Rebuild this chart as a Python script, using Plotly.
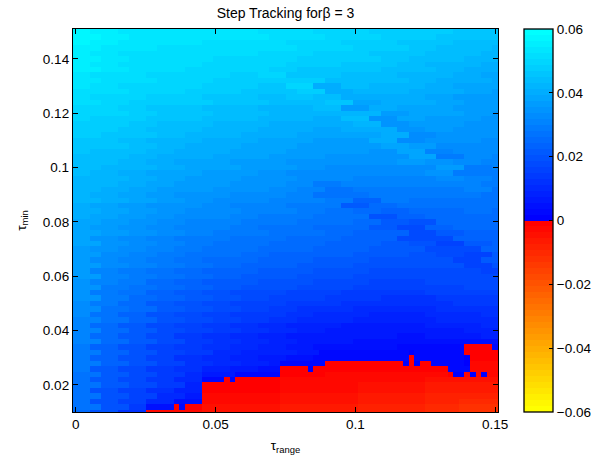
import plotly.graph_objects as go

# Parameter grid: tau_range along x, tau_min along y
tau_range = [round(0.002 * i, 3) for i in range(76)]        # 0 ... 0.15
tau_min = [round(0.01 + 0.002 * j, 3) for j in range(71)]   # 0.01 ... 0.15

# Run-length coded rows of the tracking measure, first row is tau_min = 0.15.
# Each token is <code><count>; digits/lower-case codes are positive levels
# (0 .. v), upper-case codes are negative levels (A = just below zero).
level_rows = [
    "u3 t5 s25 r10 q10 p15 o8",
    "u5 t5 s25 r10 q10 p10 o11",
    "u3 t5 s15 r15 q10 p10 o10 n8",
    "t5 s10 r25 q10 p10 o5 n10 m1",
    "t3 s5 r25 q10 p10 o10 n10 m3",
    "t5 s5 r15 q15 p15 o5 n10 m6",
    "t3 s5 r15 q15 p10 o10 n5 m10 l3",
    "t5 s5 r10 q15 p5 o15 n10 m5 l6",
    "s3 r10 q15 p5 q5 o10 n10 m10 l5 k3",
    "s5 r10 q10 p20 n15 m5 l10 k1",
    "s3 r5 q15 p10 o5 q5 l5 n5 m10 l5 k8",
    "r10 q10 p10 o10 p5 l5 m10 l10 k5 j1",
    "r3 q10 p10 o10 n5 o5 n5 l15 k5 j8",
    "r5 q5 p15 o10 n10 o5 k5 l10 k5 j6",
    "q8 p5 o10 n10 m10 n5 j5 l5 k10 j8",
    "q10 p5 o10 n10 m20 j5 k10 j5 i1",
    "q3 p10 o10 n10 m10 l5 n5 i5 k5 j10 i3",
    "p10 o5 n10 m10 l15 m5 i5 j10 i6",
    "p8 o5 n10 m10 l10 k5 l10 i5 j5 i8",
    "p5 o10 n5 m10 l10 k15 l5 h5 i11",
    "o8 n5 m10 l10 k10 j10 l5 h5 i10 h3",
    "o10 n5 m5 l10 k10 j15 k5 j5 h11",
    "o3 n10 m5 l10 k10 j15 i5 k5 g5 h8",
    "n10 m5 l10 k10 j10 i15 k5 f5 h5 g1",
    "n8 m5 l5 k10 j10 i20 j5 i5 h5 g3",
    "n5 m10 l5 k10 j10 i5 h20 j5 f5 g1",
    "n3 m5 l5 k10 j10 i5 h25 i5 f8",
    "m10 l5 k5 j10 i10 h10 g15 h5 g5 f1",
    "m8 l5 k5 j10 i10 h5 f5 g25 f3",
    "m5 l5 k5 j10 i10 h5 g5 e5 f20 g5 e1",
    "m3 l5 k5 j5 i10 h10 g5 e10 f20 e3",
    "m5 l5 k5 j5 i5 h10 g10 f5 c5 f5 e16",
    "l3 k5 j5 i10 h5 g10 f10 b5 d5 e18",
    "l5 k5 j5 i5 h10 g10 f5 e5 d5 c5 d10 e5 d1",
    "l3 k5 j5 i5 h10 g5 f10 e10 a5 c5 d13",
    "k5 j5 i5 h5 g10 f10 e10 d5 b5 a5 d11",
    "k3 j5 i5 h5 g10 f5 e10 d10 b5 95 c5 d8",
    "k5 j5 i5 h5 g5 f10 e10 d5 c10 95 b5 c6",
    "k3 i5 h5 g5 f10 e10 d10 c10 910 c8",
    "k5 i5 h5 g5 f5 e10 d10 c10 b5 a5 85 b5 c1",
    "j3 i5 h5 g5 f5 e10 d10 c10 b10 910 c3",
    "j5 h5 g5 f5 e10 d5 c15 b10 a5 95 85 b1",
    "j3 h5 g5 f5 e5 d10 c10 b10 a15 85 b3",
    "j5 h5 g5 f5 e5 d5 c10 b10 a20 85 a1",
    "j3 g5 f5 e5 d5 c10 b10 a10 920 83",
    "j5 g5 f5 e5 d5 c5 b10 a10 926",
    "i3 g5 f5 d5 c5 b10 a10 910 810 913",
    "i5 f5 e5 d5 c5 b5 a10 910 820 96",
    "i3 f5 e5 c5 b5 a5 910 810 715 813",
    "i5 f5 d5 c5 b5 a5 95 810 710 610 711",
    "h3 f5 d5 b5 a5 95 810 710 620 78",
    "h5 e5 d5 b5 a5 95 85 75 610 515 611",
    "h3 e5 c5 a5 95 85 710 65 510 410 510 63",
    "g5 e5 c5 a5 95 85 75 65 510 415 511",
    "g3 d5 b5 95 85 75 65 55 410 315 410 53",
    "g5 d5 b5 95 85 75 65 55 45 325 46",
    "g3 d5 b5 95 75 65 55 45 320 25 310 43",
    "g5 d5 b5 95 75 65 55 45 310 226",
    "f3 c5 a5 85 75 65 55 45 35 215 112 A5 11",
    "f5 c5 a5 85 75 55 410 34 116 01 19 A6",
    "f3 c5 a5 85 65 55 45 35 25 117 A1 19 01 A5",
    "f5 c5 a5 85 65 55 45 32 18 A14 01 A1 01 A2 16 01 B5",
    "f3 b5 95 75 65 45 35 24 A5 01 A24 14 B5",
    "e5 b5 95 75 53 36 18 A8 B22 A1 02 B1 01 B1 01 B2",
    "e3 b5 95 75 55 14 A1 11 A8 B26 C13",
    "e5 b5 95 75 43 A14 B14 C12 D13",
    "e3 a5 85 65 45 A14 B14 C12 D13",
    "e5 a5 85 55 33 B14 C14 D12 E13",
    "e3 a5 85 55 25 B14 C14 D12 E6 F7",
    "e5 a5 73 25 A1 11 A3 C14 D14 E12 F6 G7",
    "d3 a5 65 B10 C14 D14 E12 F6 G7",
]

colorbar_ticks = [0.06, 0.04, 0.02, 0, -0.02, -0.04, -0.06]
x_ticks = [0, 0.05, 0.1, 0.15]
y_ticks = [0.02, 0.04, 0.06, 0.08, 0.1, 0.12, 0.14]

Z_LIM = 0.06
N_HALF = 32
STEP = Z_LIM / N_HALF
POS_CODES = "0123456789abcdefghijklmnopqrstuv"
NEG_CODES = "ABCDEFGHIJKLMNOPQRSTUVWXYZ"


def decode(row):
    values = []
    for token in row.split():
        code, count = token[0], int(token[1:])
        if code in POS_CODES:
            v = (POS_CODES.index(code) + 0.5) * STEP
        else:
            v = -(NEG_CODES.index(code) + 0.5) * STEP
        values.extend([v] * count)
    if len(values) != len(tau_range):
        raise ValueError(f"row has {len(values)} cells: {row}")
    return values


# bottom row first for the heatmap
z = [decode(r) for r in reversed(level_rows)]

# 64-band colormap: yellow -> red below zero, blue -> cyan above zero
colorscale = []
for i in range(2 * N_HALF):
    if i < N_HALF:
        g = round(255 * (N_HALF - 1 - i) / (N_HALF - 1))
        color = f"rgb(255,{g},0)"
    else:
        g = round(255 * (i - N_HALF) / (N_HALF - 1))
        color = f"rgb(0,{g},255)"
    colorscale.append([i / (2 * N_HALF), color])
    colorscale.append([(i + 1) / (2 * N_HALF), color])

FONT = "Liberation Sans, Arial, Helvetica, sans-serif"

fig = go.Figure(
    go.Heatmap(
        x=tau_range,
        y=tau_min,
        z=z,
        zmin=-Z_LIM,
        zmax=Z_LIM,
        colorscale=colorscale,
        zsmooth=False,
        colorbar=dict(
            x=1.06,
            xanchor="left",
            xpad=0,
            y=0.5,
            yanchor="middle",
            len=1,
            ypad=0,
            thickness=29,
            outlinecolor="black",
            outlinewidth=1.3,
            tickvals=colorbar_ticks,
            ticks="inside",
            ticklen=4,
            tickcolor="black",
            tickfont=dict(family=FONT, size=13.5, color="black"),
        ),
        hoverinfo="skip",
    )
)

axis_common = dict(
    showline=True,
    linecolor="black",
    linewidth=1.3,
    mirror="ticks",
    ticks="inside",
    ticklen=5,
    tickcolor="black",
    showgrid=False,
    zeroline=False,
    tickfont=dict(family=FONT, size=13.5, color="black"),
)

fig.update_xaxes(
    range=[-0.001, 0.151],
    tickvals=x_ticks,
    title=dict(text="τ<sub>range</sub>", standoff=9,
               font=dict(family=FONT, size=13.5, color="black")),
    **axis_common,
)
fig.update_yaxes(
    range=[0.01, 0.151],
    tickvals=y_ticks,
    title=dict(text="τ<sub>min</sub>", standoff=13,
               font=dict(family=FONT, size=13.5, color="black")),
    **axis_common,
)

fig.update_layout(
    width=612,
    height=464,
    margin=dict(l=73, r=113.5, t=28.5, b=52),
    paper_bgcolor="white",
    plot_bgcolor="white",
    font=dict(family=FONT, size=13.5, color="black"),
    title=dict(
        text="Step Tracking forβ = 3",
        xref="paper",
        x=0.5,
        xanchor="center",
        yref="container",
        y=1 - 13 / 464,
        yanchor="middle",
        font=dict(family=FONT, size=14, color="black"),
    ),
)

fig.write_html("out.html")
